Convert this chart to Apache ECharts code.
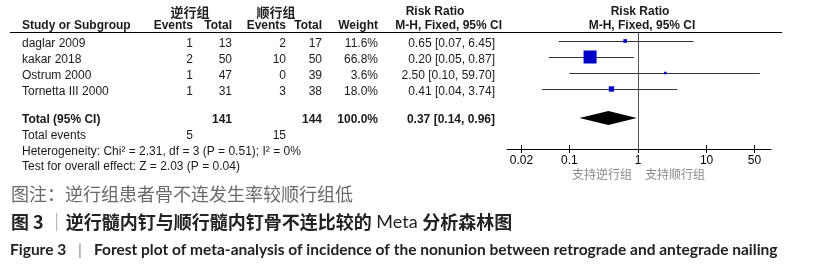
<!DOCTYPE html>
<html><head><meta charset="utf-8">
<script src="https://cdn.jsdelivr.net/npm/echarts@6/dist/echarts.min.js"></script>
<style>html,body{margin:0;padding:0;background:#fff}#c{width:820px;height:274px}</style>
</head><body><div id="c"></div>
<script>
// ---- data ----
const studies = ['daglar 2009', 'kakar 2018', 'Ostrum 2000', 'Tornetta III 2000'];
const eventsRetro = [1, 2, 1, 1];
const totalRetro = [13, 50, 47, 31];
const eventsAnte = [2, 10, 0, 3];
const totalAnte = [17, 50, 39, 38];
const weights = [11.6, 66.8, 3.6, 18.0];
const riskRatio = [0.65, 0.20, 2.50, 0.41];
const ciLow = [0.07, 0.05, 0.10, 0.04];
const ciHigh = [6.45, 0.87, 59.70, 3.74];
const pooledRR = [0.37, 0.14, 0.96];        // estimate, low, high
const pooledTotals = [141, 144];
const pooledWeight = [100.0];
const totalEvents = [5, 15];
const tickValues = [0.02, 0.1, 1, 10, 50];
const groupNames = ['逆行组', '顺行组'];
const favourLabels = ['支持逆行组', '支持顺行组'];
const heterogeneityText = 'Heterogeneity: Chi² = 2.31, df = 3 (P = 0.51); I² = 0%';
const overallText = 'Test for overall effect: Z = 2.03 (P = 0.04)';
const noteText = '图注：逆行组患者骨不连发生率较顺行组低';
const figTitleCN = ['图 3', '逆行髓内钉与顺行髓内钉骨不连比较的', 'Meta', '分析森林图'];
const figTitleEN = ['Figure 3', 'Forest plot of meta-analysis of incidence of the nonunion between retrograde and antegrade nailing'];

// ---- layout helpers ----
const F = 'Liberation Sans, Arial, sans-serif';
const CJK = '"Noto Sans CJK SC", sans-serif';
const TXT = '#1a1a1a';
const g = [];
function t(text, x, y, opt) {
  opt = opt || {};
  const st = {
    text: String(text), x: x, y: y,
    fontSize: opt.size || 12, fontFamily: opt.family || F, fontWeight: opt.weight || 'normal',
    fill: opt.color || TXT, align: opt.align || 'left', verticalAlign: 'middle'
  };
  if (opt.rich) st.rich = opt.rich;
  g.push({type: 'text', silent: true, z: 10, style: st});
}
const colRight = [193, 232, 286, 322, 378, 495];
// headers
t(groupNames[0], 190, 12, {family: CJK, weight: 'bold', size: 13, align: 'center', color: '#222'});
t(groupNames[1], 276, 12, {family: CJK, weight: 'bold', size: 13, align: 'center', color: '#222'});
t('Risk Ratio', 435, 12, {weight: 'bold', align: 'center'});
t('Risk Ratio', 640, 12, {weight: 'bold', align: 'center'});
t('Study or Subgroup', 22, 26, {weight: 'bold'});
['Events', 'Total', 'Events', 'Total', 'Weight'].forEach((h, i) => t(h, colRight[i], 26, {weight: 'bold', align: 'right'}));
t('M-H, Fixed, 95% CI', 502, 26, {weight: 'bold', align: 'right'});
t('M-H, Fixed, 95% CI', 642, 26, {weight: 'bold', align: 'center'});
g.push({type: 'rect', silent: true, z: 10, shape: {x: 10, y: 32, width: 772, height: 1}, style: {fill: '#000'}});
// study rows
const fmt2 = v => v.toFixed(2);
studies.forEach((s, i) => {
  const y = 44 + 16 * i;
  t(s, 22, y);
  const vals = [eventsRetro[i], totalRetro[i], eventsAnte[i], totalAnte[i], weights[i].toFixed(1) + '%',
    fmt2(riskRatio[i]) + ' [' + fmt2(ciLow[i]) + ', ' + fmt2(ciHigh[i]) + ']'];
  vals.forEach((v, j) => t(v, colRight[j], y, {align: 'right'}));
});
// total rows
t('Total (95% CI)', 22, 120, {weight: 'bold'});
t(pooledTotals[0], colRight[1], 120, {weight: 'bold', align: 'right'});
t(pooledTotals[1], colRight[3], 120, {weight: 'bold', align: 'right'});
t(pooledWeight[0].toFixed(1) + '%', colRight[4], 120, {weight: 'bold', align: 'right'});
t(fmt2(pooledRR[0]) + ' [' + fmt2(pooledRR[1]) + ', ' + fmt2(pooledRR[2]) + ']', colRight[5], 120, {weight: 'bold', align: 'right'});
t('Total events', 22, 136);
t(totalEvents[0], colRight[0], 136, {align: 'right'});
t(totalEvents[1], colRight[2], 136, {align: 'right'});
t(heterogeneityText, 22, 152);
t(overallText, 22, 167);
// favour labels
t(favourLabels[0], 602, 174, {family: CJK, size: 12, align: 'center', color: '#8a8a8a'});
t(favourLabels[1], 675, 174, {family: CJK, size: 12, align: 'center', color: '#8a8a8a'});
// captions
t(noteText, 11, 194, {family: CJK, size: 18, color: '#6a6a6a'});
t('{b|' + figTitleCN[0] + '}{bar| ｜}{b|' + figTitleCN[1] + '}{n| ' + figTitleCN[2] + ' }{b|' + figTitleCN[3] + '}', 11, 222, {
  family: CJK, size: 18, color: '#222',
  rich: {
    b: {fontFamily: CJK, fontSize: 18, fontWeight: 'bold', fill: '#222'},
    bar: {fontFamily: CJK, fontSize: 18, fontWeight: 'normal', fill: '#999'},
    n: {fontFamily: 'Lato, sans-serif', fontSize: 18, fontWeight: 'normal', fill: '#222'}
  }
});
t('{b|' + figTitleEN[0] + '}{bar|   |   }{b|' + figTitleEN[1] + '}', 10, 250, {
  family: 'Lato, sans-serif', size: 15.5, color: '#222',
  rich: {
    b: {fontFamily: 'Lato, sans-serif', fontSize: 15.5, fontWeight: 'bold', fill: '#222'},
    bar: {fontFamily: 'Lato, sans-serif', fontSize: 15.5, fontWeight: 'normal', fill: '#888'}
  }
});

// ---- forest data ----
const studyData = studies.map((s, i) => [riskRatio[i], ciLow[i], ciHigh[i], weights[i], i]);
const pooledData = [[pooledRR[0], pooledRR[1], pooledRR[2], 100, 4.8125]];

const axisCommon = {type: 'log', logBase: 10, min: 0.0123, max: 86.9, gridIndex: 0, position: 'bottom', splitLine: {show: false}};
const option = {
  animation: false,
  grid: {left: 507, top: 32, width: 264, height: 117, containLabel: false},
  xAxis: [
    Object.assign({}, axisCommon, {
      axisLine: {show: true, onZero: false, lineStyle: {color: '#000', width: 1}},
      axisTick: {show: true, inside: false, length: 4, customValues: tickValues, lineStyle: {color: '#000'}},
      axisLabel: {show: true, customValues: tickValues, margin: 6, fontSize: 12, fontFamily: F, color: '#000',
        formatter: v => String(parseFloat(Number(v).toPrecision(6)))}
    }),
    Object.assign({}, axisCommon, {
      axisLine: {show: false, onZero: false},
      axisTick: {show: true, inside: true, length: 4, customValues: tickValues, lineStyle: {color: '#000'}},
      axisLabel: {show: false}
    })
  ],
  yAxis: {type: 'value', min: -0.5625, max: 6.75, inverse: true, show: false},
  series: [
    {
      type: 'custom', name: 'studies', xAxisIndex: 0, data: studyData,
      encode: {x: [0, 1, 2], y: 4},
      renderItem: function (params, api) {
        const y = api.value(4);
        const p = api.coord([api.value(0), y]);
        const a = api.coord([api.value(1), y]);
        const b = api.coord([api.value(2), y]);
        const side = Math.max(2.5, 1.96 * Math.sqrt(api.value(3)) - 3);
        const py = Math.round(p[1]) + 0.5;
        return {type: 'group', children: [
          {type: 'line', shape: {x1: a[0], y1: py, x2: b[0], y2: py}, style: {stroke: '#333', lineWidth: 1}},
          {type: 'rect', shape: {x: p[0] - side / 2, y: p[1] - side / 2, width: side, height: side}, style: {fill: '#0000c8'}}
        ]};
      },
      markLine: {silent: true, symbol: 'none', label: {show: false},
        lineStyle: {color: '#555', width: 1, type: 'solid'}, data: [{xAxis: 1}]}
    },
    {
      type: 'custom', name: 'pooled', xAxisIndex: 0, data: pooledData,
      encode: {x: [0, 1, 2], y: 4},
      renderItem: function (params, api) {
        const y = api.value(4);
        const p = api.coord([api.value(0), y]);
        const a = api.coord([api.value(1), y]);
        const b = api.coord([api.value(2), y]);
        const h = 7;
        return {type: 'polygon', shape: {points: [[a[0], p[1]], [p[0], p[1] - h], [b[0], p[1]], [p[0], p[1] + h]]},
          style: {fill: '#000'}};
      }
    }
  ],
  graphic: g
};
const chart = echarts.init(document.getElementById('c'), null, {renderer: 'canvas'});
chart.setOption(option);
</script></body></html>
